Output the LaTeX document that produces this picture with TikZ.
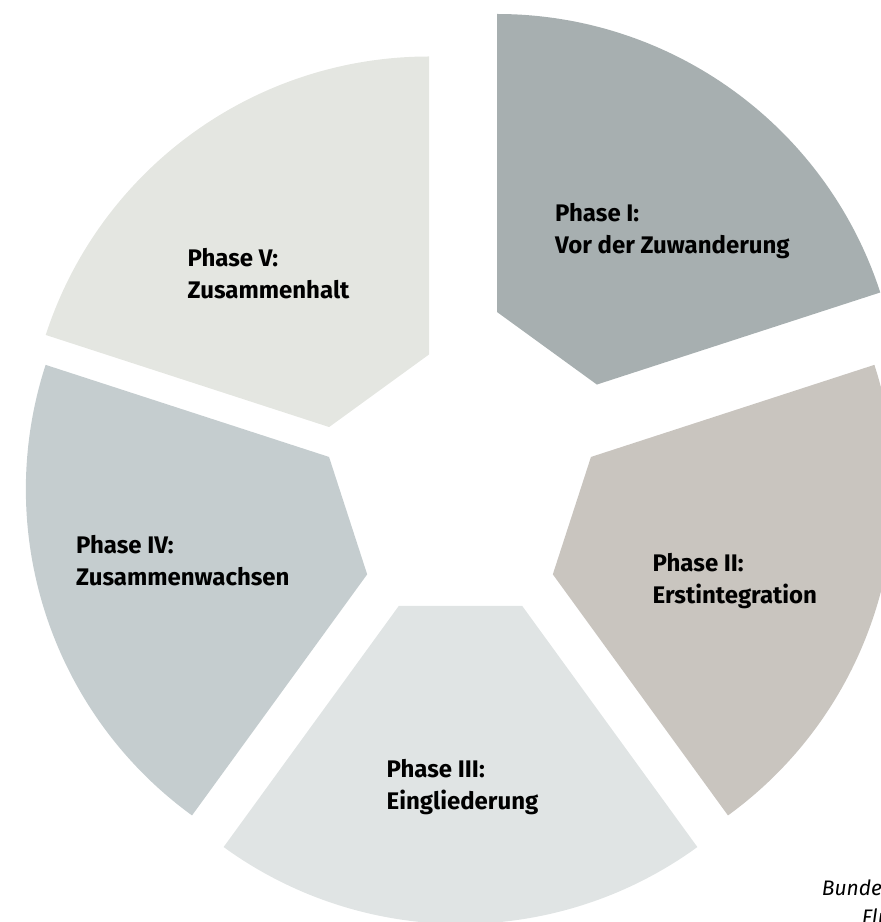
\documentclass[tikz,border=0pt]{standalone}
\usepackage{fontspec}
\setmainfont{Fira Sans}
\definecolor{cI}{HTML}{A7AFB0}
\definecolor{cII}{HTML}{C9C5BF}
\definecolor{cIII}{HTML}{E0E4E4}
\definecolor{cIV}{HTML}{C5CDCF}
\definecolor{cV}{HTML}{E4E6E1}
\tikzset{
  phaselabel/.style={anchor=base west, inner sep=0pt, align=left,
    font=\fontsize{24}{32}\selectfont\bfseries, text=black},
  sourcelabel/.style={anchor=base west, inner sep=0pt,
    font=\fontsize{21}{24}\selectfont\itshape, text=black}
}
\begin{document}
\begin{tikzpicture}[x=1pt,y=1pt]
\useasboundingbox (0,0) rectangle (881,922);
% segments: apex, start angle, end angle
\fill[cI,  shift={(497,505)}]   (18:105) -- (90:105) -- (90:403) arc[start angle=90, end angle=18, radius=403] -- cycle;
\fill[cV,  shift={(429,462.5)}] (90:105) -- (162:105) -- (162:403) arc[start angle=162, end angle=90, radius=403] -- cycle;
\fill[cIV, shift={(428.9,432.6)}] (162:105) -- (234:105) -- (234:403) arc[start angle=234, end angle=162, radius=403] -- cycle;
\fill[cIII,shift={(460.5,401)}] (234:105) -- (306:105) -- (306:403) arc[start angle=306, end angle=234, radius=403] -- cycle;
\fill[cII, shift={(491.1,432.6)}] (306:105) -- (378:105) -- (378:403) arc[start angle=378, end angle=306, radius=403] -- cycle;
% labels (anchor = baseline of the last line)
\node[phaselabel] (lI)   at (555,668)   {Phase I:\\Vor der Zuwanderung};
\node[phaselabel] (lV)   at (187.5,623) {Phase V:\\Zusammenhalt};
\node[phaselabel] (lIV)  at (76,336)    {Phase IV:\\Zusammenwachsen};
\node[phaselabel] (lII)  at (652.5,318) {Phase II:\\Erstintegration};
\node[phaselabel] (lIII) at (386.5,112) {Phase III:\\Eingliederung};
\node[sourcelabel] (s1) at (821.7,27) {Bunde};
\node[sourcelabel] (s2) at (861.7,-2) {Flu};
\end{tikzpicture}
\end{document}
